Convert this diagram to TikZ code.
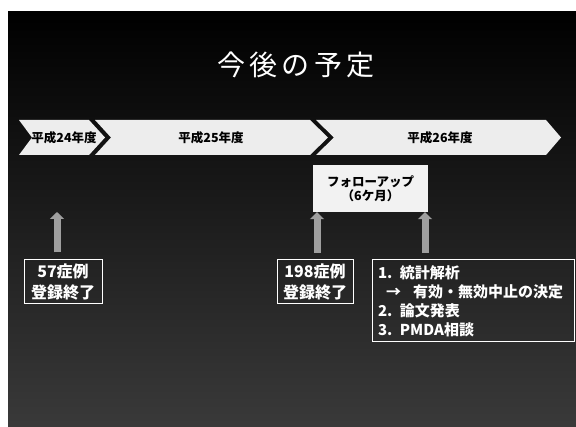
\documentclass[tikz,border=0pt]{standalone}
\usepackage{fontspec}
\setmainfont{Liberation Sans}
\newfontfamily\jp{Noto Sans CJK JP}
\newfontfamily\jptitle[LetterSpace=16]{Noto Sans CJK JP}
\usetikzlibrary{arrows.meta}
\tikzset{
  chev/.style={fill=white!93!black},
  chevlabel/.style={font=\jp\bfseries\fontsize{12.5}{14}\selectfont, text=black, inner sep=0pt},
  wbox/.style={draw=white, line width=1pt, text=white, font=\jp\bfseries\fontsize{16}{21}\selectfont, align=center, inner sep=2pt},
  fubox/.style={fill=white!95!black, text=black, font=\jp\bfseries\fontsize{12.5}{14.5}\selectfont, align=center, minimum width=115pt, minimum height=47pt, inner sep=0pt},
  uparrow/.style={draw=gray!75, line width=7pt, -{Triangle[width=14pt,length=7pt]}}
}
\begin{document}
\begin{tikzpicture}[x=1pt,y=-1pt]
\useasboundingbox (0,0) rectangle (576,427);
\shade[top color=black, bottom color=gray!45!black] (8,12) rectangle (576,427);
% title
\node[text=white, font=\jptitle\fontsize{28}{32}\selectfont, inner sep=0pt] (title) at (296,65) {今後の予定};
% chevrons
\fill[chev] (19,120) -- (89,120) -- (105,137.5) -- (89,155) -- (19,155) -- (32,137.5) -- cycle;
\fill[chev] (95,120) -- (310,120) -- (328,137.5) -- (310,155) -- (95,155) -- (111,137.5) -- cycle;
\fill[chev] (316,120) -- (546,120) -- (561,137.5) -- (546,155) -- (316,155) -- (334,137.5) -- cycle;
\node[chevlabel] (y24) at (64,137.5) {平成24年度};
\node[chevlabel] (y25) at (211,137.5) {平成25年度};
\node[chevlabel] (y26) at (440,137.5) {平成26年度};
% follow-up box
\node[fubox] (fu) at (370.5,188.5) {フォローアップ\\（6ケ月）};
% boxes
\node[wbox, minimum width=78pt, minimum height=44pt] (b1) at (63,282) {57症例\\登録終了};
\node[wbox, minimum width=76pt, minimum height=44pt] (b2) at (315,282) {198症例\\登録終了};
\node[wbox, minimum width=202pt, minimum height=82pt, align=left, text width=190pt, inner xsep=6pt, font=\jp\bfseries\fontsize{15}{19}\selectfont] (b3) at (473,301)
  {1. 統計解析\\\hspace*{8pt}→\hspace{12pt}有効・無効中止の決定\\2. 論文発表\\3. PMDA相談};
% arrows
\coordinate (t1) at (57,212);
\coordinate (s1) at ([yshift=7pt]b1.north -| t1);
\coordinate (s2) at (317,253);
\coordinate (s3) at (425,253);
\draw[uparrow] (s1) -- (t1);
\draw[uparrow] (s2) -- (fu.south -| s2);
\draw[uparrow] (s3) -- (fu.south -| s3);
\end{tikzpicture}
\end{document}
